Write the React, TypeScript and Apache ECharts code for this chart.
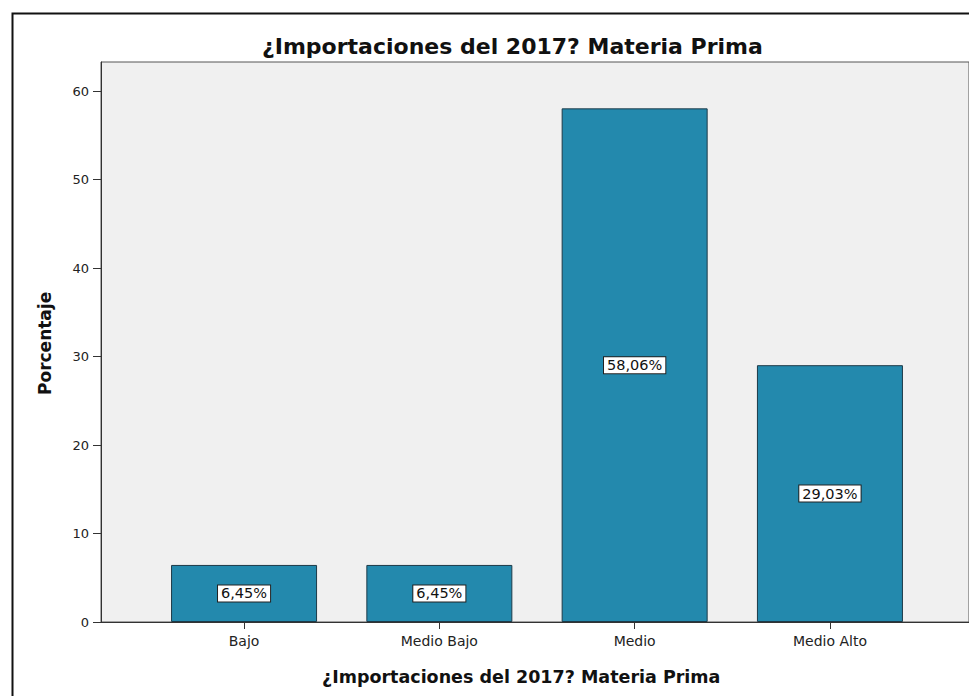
import React, { useEffect, useRef } from "react";
import * as echarts from "echarts";

const categories = ["Bajo", "Medio Bajo", "Medio", "Medio Alto"];
const values = [6.45, 6.45, 58.06, 29.03];
const labels = ["6,45%", "6,45%", "58,06%", "29,03%"];
const yTicks = [0, 10, 20, 30, 40, 50, 60];
const titleText = "¿Importaciones del 2017? Materia Prima";
const xName = "¿Importaciones del 2017? Materia Prima";
const yName = "Porcentaje";

const FONT = "'DejaVu Sans', Verdana, sans-serif";
const Y_MAX = 63.3;

export default function App() {
  const ref = useRef<HTMLDivElement>(null);
  useEffect(() => {
    document.body.style.margin = "0";
    if (!ref.current) return;
    const chart = echarts.init(ref.current, null, { renderer: "svg" });
    const top = 62;
    const bottom = 74;
    chart.setOption({
      animation: false,
      backgroundColor: "#ffffff",
      graphic: [
        {
          type: "rect",
          shape: { x: 12.5, y: 13.5, width: 1000, height: 1000 },
          style: { fill: "none", stroke: "#111", lineWidth: 2 },
          z: 0,
        },
        {
          type: "text",
          x: 262,
          y: 46,
          style: {
            text: titleText,
            fontFamily: FONT,
            fontWeight: "bold",
            fontSize: 22,
            fill: "#111",
            align: "left",
            verticalAlign: "middle",
          },
        },
        {
          type: "text",
          x: 322,
          y: 677,
          style: {
            text: xName,
            fontFamily: FONT,
            fontWeight: "bold",
            fontSize: 17.5,
            fill: "#111",
            align: "left",
            verticalAlign: "middle",
          },
        },
        {
          type: "text",
          x: 45,
          y: 395,
          rotation: Math.PI / 2,
          style: {
            text: yName,
            fontFamily: FONT,
            fontWeight: "bold",
            fontSize: 17,
            fill: "#111",
            align: "left",
            verticalAlign: "middle",
          },
        },
      ],
      grid: [
        {
          left: 101,
          right: -12,
          top,
          bottom,
          show: true,
          backgroundColor: "#f0f0f0",
          borderColor: "#555",
          borderWidth: 1,
        },
        {
          left: 146.4,
          width: 781.2,
          top,
          bottom,
        },
      ],
      xAxis: [
        {
          gridIndex: 0,
          type: "value",
          min: 0,
          max: 1,
          axisLine: { show: true, lineStyle: { color: "#333", width: 1 } },
          axisTick: { show: false },
          axisLabel: { show: false },
          splitLine: { show: false },
        },
        {
          gridIndex: 1,
          type: "category",
          data: categories,
          axisLine: { show: false },
          axisTick: { show: true, alignWithLabel: true, length: 7, lineStyle: { color: "#333" } },
          axisLabel: { color: "#222", fontFamily: FONT, fontSize: 14, margin: 12 },
        },
      ],
      yAxis: [
        {
          gridIndex: 0,
          type: "value",
          min: 0,
          max: Y_MAX,
          interval: 10,
          axisLine: { show: true, lineStyle: { color: "#333", width: 1 } },
          axisTick: { show: true, length: 8, lineStyle: { color: "#333" } },
          axisLabel: {
            color: "#222",
            fontFamily: FONT,
            fontSize: 13,
            margin: 12,
            showMaxLabel: false,
            formatter: (v: number) => (yTicks.includes(v) ? String(v) : ""),
          },
          splitLine: { show: false },
        },
        {
          gridIndex: 1,
          type: "value",
          min: 0,
          max: Y_MAX,
          interval: 10,
          show: false,
          splitLine: { show: false },
        },
      ],
      series: [
        {
          type: "bar",
          xAxisIndex: 1,
          yAxisIndex: 1,
          data: values,
          barWidth: 146,
          itemStyle: { color: "#2389ad", borderColor: "#1d3a48", borderWidth: 1 },
          label: {
            show: true,
            position: "inside",
            formatter: (p: any) => labels[p.dataIndex],
            color: "#111",
            fontFamily: FONT,
            fontSize: 14.5,
            backgroundColor: "#ffffff",
            borderColor: "#222",
            borderWidth: 1,
            padding: [1, 3, 0, 3],
          },
        },
      ],
    });
    return () => chart.dispose();
  }, []);
  return <div ref={ref} style={{ width: 969, height: 696 }} />;
}
